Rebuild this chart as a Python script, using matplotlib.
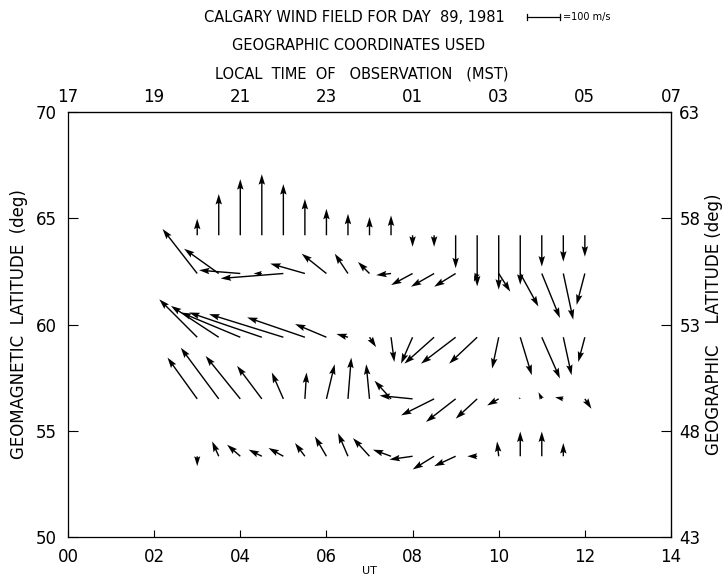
import matplotlib
matplotlib.use("Agg")
import matplotlib.pyplot as plt
from matplotlib.lines import Line2D

# UT grid of the radar cells (hours) and row latitudes (geomagnetic deg)
ut_grid = [3.0, 3.5, 4.0, 4.5, 5.0, 5.5, 6.0, 6.5, 7.0, 7.5,
           8.0, 8.5, 9.0, 9.5, 10.0, 10.5, 11.0, 11.5, 12.0]
row_lat = [64.2, 62.4, 59.4, 56.5, 53.8]

# wind components, m/s (east, north)
row1_u = [0] * 19
row1_v = [50, 125, 170, 185, 155, 110, 80, 65, 55, 60,
          -35, -35, -100, -155, -165, -150, -95, -80, -65]

row2_u = [-105, -105, -125, -25, -190, -105, -75, -40, -35, -45,
          -65, -70, -65, -10, 35, 55, 55, 30, -25]
row2_v = [135, 75, 10, 0, -15, 30, 60, 60, 35, -5,
          -35, -40, -40, -25, -55, -100, -135, -140, -95]

row3_u = [-115, -145, -180, -220, -225, -175, -95, -35, 20, 10,
          -35, -90, -105, -85, -20, 35, 55, 25, -20]
row3_v = [115, 95, 75, 75, 70, 60, 40, 10, -30, -75,
          -80, -80, -80, -80, -95, -115, -125, -115, -75]

row4_u = [-90, -115, -105, -75, -35, 5, 25, 10, -10, -50,
          -100, -100, -90, -65, -35, -5, -10, -25, 20]
row4_v = [125, 155, 130, 100, 80, 80, 105, 125, 105, 55,
          10, -50, -70, -60, -20, 5, 20, 5, -30]

row5_u = [0, -20, -40, -40, -45, -30, -35, -30, -50, -55,
          -70, -65, -65, -30, -5, 0, 0, 0]
row5_v = [-30, 45, 35, 20, 25, 40, 60, 70, 55, 20,
          -10, -40, -30, 0, 45, 75, 75, 40]

ut_ticks = [0, 2, 4, 6, 8, 10, 12, 14]
ut_labels = ["00", "02", "04", "06", "08", "10", "12", "14"]
mst_labels = ["17", "19", "21", "23", "01", "03", "05", "07"]
lat_ticks = [50, 55, 60, 65, 70]

# 100 m/s drawn as 33 pixels
ref_speed = 100
ref_px = 33
scale = ref_speed / ref_px

W, H = 728, 577
fig = plt.figure(figsize=(W / 100, H / 100), dpi=100)
ax = fig.add_axes([68 / W, 1 - 537 / H, (671 - 68) / W, (537 - 112) / H])

rows = [(row1_u, row1_v), (row2_u, row2_v), (row3_u, row3_v),
        (row4_u, row4_v), (row5_u, row5_v)]
for lat, (u, v) in zip(row_lat, rows):
    x = ut_grid[:len(u)]
    ax.quiver(x, [lat] * len(u), u, v, angles="uv", scale_units="dots",
              scale=scale, units="dots", width=1.4, headwidth=4.6,
              headlength=7.5, headaxislength=6.5, pivot="tail", color="black")

ax.set_xlim(0, 14)
ax.set_ylim(50, 70)
ax.set_xticks(ut_ticks)
ax.set_xticklabels(ut_labels)
ax.set_yticks(lat_ticks)
ax.tick_params(axis="both", direction="in", labelsize=12, width=0.8)
ax.tick_params(axis="x", length=5, pad=8)
ax.tick_params(axis="y", length=7, pad=8)
for s in ax.spines.values():
    s.set_linewidth(0.9)
ax.set_ylabel("GEOMAGNETIC  LATITUDE  (deg)", fontsize=12, labelpad=6)
fig.text(ax.get_position().x0 + ax.get_position().width / 2, 1 / H, "UT",
         ha="center", va="bottom", fontsize=8)

# local time along the top, geographic latitude on the right
top = ax.secondary_xaxis("top")
top.set_xticks(ut_ticks)
top.set_xticklabels(mst_labels)
top.tick_params(length=0, labelsize=12, pad=4)

right = ax.secondary_yaxis("right", functions=(lambda y: y - 7, lambda y: y + 7))
right.set_yticks([43, 48, 53, 58, 63])
right.tick_params(direction="in", length=7, labelsize=12, pad=6)
right.set_ylabel("GEOGRAPHIC    LATITUDE (deg)", fontsize=12, labelpad=3)

fig.text(0.487, 1 - 18 / H, "CALGARY WIND FIELD FOR DAY  89, 1981",
         ha="center", va="center", fontsize=10.5)
fig.text(0.492, 1 - 46 / H, "GEOGRAPHIC COORDINATES USED",
         ha="center", va="center", fontsize=10.5)
fig.text(0.497, 1 - 74 / H, "LOCAL  TIME  OF   OBSERVATION   (MST)",
         ha="center", va="center", fontsize=10.5)

# velocity scale bar
x0 = 527 / W
x1 = x0 + ref_px / W
yb = 1 - 17 / H
fig.add_artist(Line2D([x0, x1], [yb, yb], color="black", lw=0.9))
for xe in (x0, x1):
    fig.add_artist(Line2D([xe, xe], [yb - 3 / H, yb + 3 / H], color="black", lw=0.9))
fig.text(x1 + 3 / W, yb, "=100 m/s", ha="left", va="center", fontsize=7)

fig.savefig("out.png", dpi=100)
